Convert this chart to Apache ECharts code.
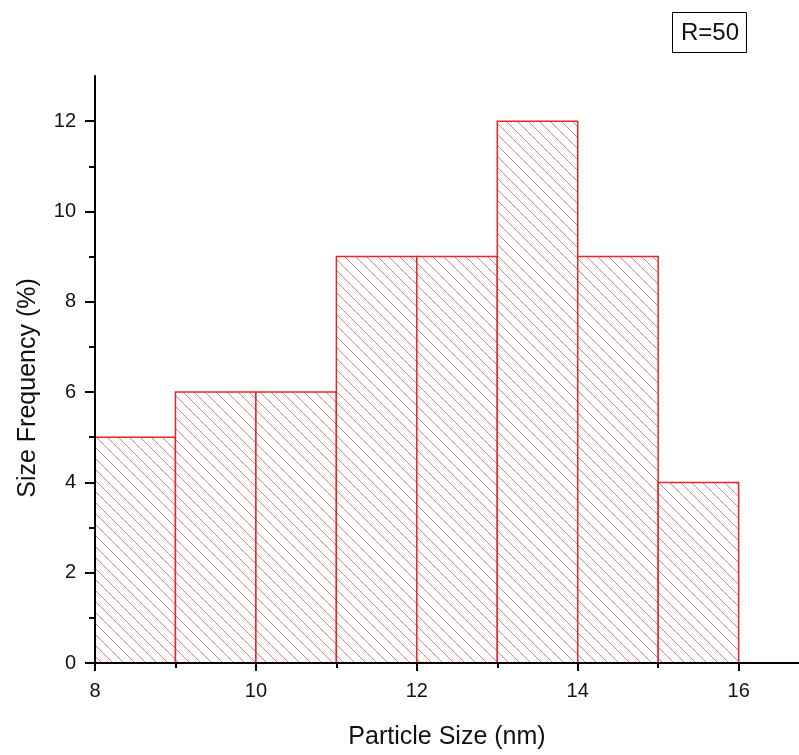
<!DOCTYPE html>
<html>
<head>
<meta charset="utf-8">
<script src="https://cdn.jsdelivr.net/npm/echarts@6/dist/echarts.min.js"></script>
<style>
html,body{margin:0;padding:0;background:#fff;}
#chart{width:799px;height:755px;}
</style>
</head>
<body>
<div id="chart"></div>
<script>
// Data
const binStart = [8, 9, 10, 11, 12, 13, 14, 15];
const binEnd   = [9, 10, 11, 12, 13, 14, 15, 16];
const freq     = [5, 6, 6, 9, 9, 12, 9, 4];
const xMajorTicks = [8, 10, 12, 14, 16];
const xMinorTicks = [9, 11, 13, 15];
const yMajorTicks = [0, 2, 4, 6, 8, 10, 12];
const yMinorTicks = [1, 3, 5, 7, 9, 11];

const seriesData = binStart.map((s, i) => [s, binEnd[i], freq[i]]);

// hatch pattern tile
const T = 11;
const tile = document.createElement('canvas');
tile.width = T; tile.height = T;
const tctx = tile.getContext('2d');
tctx.fillStyle = '#ffffff';
tctx.fillRect(0, 0, T, T);
tctx.strokeStyle = 'rgba(222,80,80,0.7)';
tctx.lineWidth = 1;
tctx.beginPath();
tctx.moveTo(-2, -2); tctx.lineTo(T + 2, T + 2);
tctx.moveTo(-2, T - 2); tctx.lineTo(2, T + 2);
tctx.moveTo(T - 2, -2); tctx.lineTo(T + 2, 2);
tctx.stroke();

const font = 'Liberation Sans, Arial, sans-serif';
const chart = echarts.init(document.getElementById('chart'), null, {renderer: 'canvas'});

const option = {
  backgroundColor: '#ffffff',
  animation: false,
  grid: {left: 95, right: 0, top: 76, bottom: 90},
  xAxis: [{
    type: 'value', min: 8, max: 16.75, interval: 2, z: 10,
    name: 'Particle Size (nm)', nameLocation: 'middle', nameGap: 62,
    nameTextStyle: {fontFamily: font, fontSize: 25, color: '#111'},
    axisLine: {show: true, onZero: false, lineStyle: {color: '#000', width: 2}},
    axisTick: {show: true, inside: false, length: 8, customValues: xMajorTicks, lineStyle: {color: '#000', width: 2}},
    axisLabel: {show: true, margin: 18, customValues: xMajorTicks, fontFamily: font, fontSize: 20, color: '#111'},
    splitLine: {show: false}
  }, {
    type: 'value', min: 8, max: 16.75, interval: 1, z: 10, position: 'bottom',
    axisLine: {show: false},
    axisTick: {show: true, inside: false, length: 5, customValues: xMinorTicks, lineStyle: {color: '#000', width: 2}},
    axisLabel: {show: false},
    splitLine: {show: false}
  }],
  yAxis: [{
    type: 'value', min: 0, max: 13, interval: 2, z: 10,
    axisLine: {show: true, onZero: false, lineStyle: {color: '#000', width: 2}},
    axisTick: {show: true, inside: false, length: 10, customValues: yMajorTicks, lineStyle: {color: '#000', width: 2}},
    axisLabel: {show: true, margin: 19, customValues: yMajorTicks, fontFamily: font, fontSize: 20, color: '#111'},
    splitLine: {show: false}
  }, {
    type: 'value', min: 0, max: 13, interval: 1, z: 10, position: 'left',
    axisLine: {show: false},
    axisTick: {show: true, inside: false, length: 6, customValues: yMinorTicks, lineStyle: {color: '#000', width: 2}},
    axisLabel: {show: false},
    splitLine: {show: false}
  }],
  series: [{
    type: 'custom',
    xAxisIndex: 0, yAxisIndex: 0,
    data: seriesData,
    encode: {x: [0, 1], y: 2},
    z: 2,
    renderItem: function (params, api) {
      const p0 = api.coord([api.value(0), api.value(2)]);
      const p1 = api.coord([api.value(1), 0]);
      return {
        type: 'rect',
        shape: {x: p0[0], y: p0[1], width: p1[0] - p0[0], height: p1[1] - p0[1]},
        style: {fill: {image: tile, repeat: 'repeat'}, stroke: '#e8262a', lineWidth: 1.5}
      };
    }
  }],
  graphic: [{
    type: 'text', x: 28, y: 388, rotation: Math.PI / 2,
    style: {text: 'Size Frequency (%)', fontFamily: font, fontSize: 25, fill: '#111', align: 'center', verticalAlign: 'middle'}
  }, {
    type: 'rect', shape: {x: 672.5, y: 12.5, width: 74, height: 40},
    style: {fill: '#fff', stroke: '#000', lineWidth: 1}
  }, {
    type: 'text', x: 710, y: 33,
    style: {text: 'R=50', fontFamily: font, fontSize: 24, fill: '#111', align: 'center', verticalAlign: 'middle'}
  }]
};
chart.setOption(option);
</script>
</body>
</html>
